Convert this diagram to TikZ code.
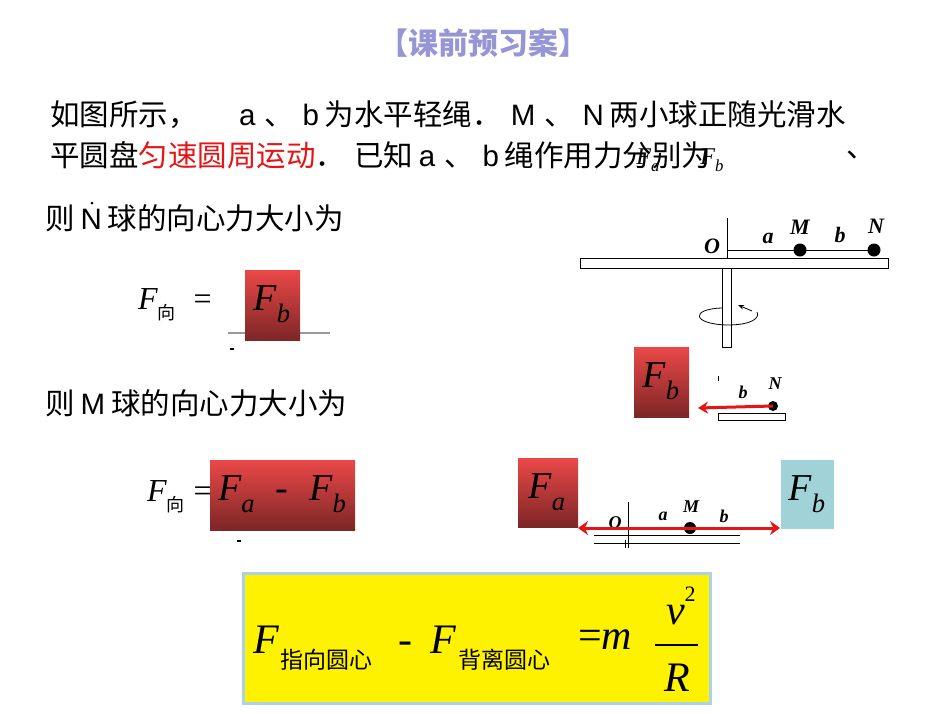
\documentclass[tikz,border=0pt]{standalone}
\usepackage{fontspec}
\setmainfont{Liberation Sans}
\newfontfamily\cjk{Noto Sans CJK SC}
\newfontfamily\ser{Liberation Serif}
\usetikzlibrary{arrows.meta}
\definecolor{tlav}{RGB}{150,150,215}
\definecolor{rtop}{RGB}{235,72,72}
\definecolor{rbot}{RGB}{125,38,38}
\definecolor{teal1}{RGB}{160,210,216}
\definecolor{rred}{RGB}{230,20,20}
\definecolor{bord}{RGB}{170,210,235}
\newcommand{\FF}[1]{{\ser\itshape F}\raisebox{-0.3em}{\scalebox{0.7}{\ser\itshape #1}}}
\newcommand{\lt}[1]{{\rmfamily #1}}
\begin{document}
\begin{tikzpicture}[x=1pt,y=-1pt,
  txt/.style={anchor=west,inner sep=0,font=\fontsize{29.5}{30}\selectfont\cjk},
  lbl/.style={inner sep=0,font=\fontsize{22}{22}\selectfont\ser\bfseries\itshape},
  slbl/.style={inner sep=0,font=\fontsize{18}{18}\selectfont\ser\bfseries\itshape},
  redbox/.style={top color=rtop,bottom color=rbot,draw=none},
  big/.style={inner sep=0,font=\fontsize{38}{38}\selectfont}]
\useasboundingbox (0,0) rectangle (950,713);
\node[inner sep=0,text=tlav,font=\fontsize{30}{30}\selectfont\cjk\bfseries] (title) at (483,43) {【课前预习案】};
\node[txt] (l1) at (50,115) {如图所示，\hspace{1.4em}\lt{a}\hspace{0.3em}、\hspace{0.3em}\lt{b}\hspace{0.2em}为水平轻绳．\hspace{0.3em}\lt{M}\hspace{0.3em}、\hspace{0.3em}\lt{N}\hspace{0.2em}两小球正随光滑水};
\node[txt] (l2) at (50,155) {平圆盘\textcolor{rred}{匀速圆周运动}．\hspace{0.3em}已知\hspace{0.2em}\lt{a}\hspace{0.3em}、\hspace{0.3em}\lt{b}\hspace{0.2em}绳作用力分别为};
\node[txt] (l2b) at (846,155) {、};
\node[inner sep=0,font=\fontsize{24}{24}\selectfont] (fa0) at (648,160) {\FF{a}};
\node[inner sep=0,font=\fontsize{24}{24}\selectfont] (fb0) at (712,160) {\FF{b}};
\node[txt] (l3) at (45,218) {则\hspace{0.2em}\lt{N}\hspace{0.2em}球的向心力大小为};
\fill (92,203) circle (1.5);
\node[txt] (l4) at (45,403) {则\hspace{0.2em}\lt{M}\hspace{0.2em}球的向心力大小为};
% first formula
\node[inner sep=0,anchor=west,font=\fontsize{32}{32}\selectfont] (f1) at (138,305) {{\ser\itshape F}\raisebox{-0.3em}{\fontsize{18}{18}\cjk 向}\ \ {\ser =}};
\draw[gray!80,line width=1.2] (228,333) -- (330,333);
\fill (230,348) rectangle (234,349.5);
\fill[redbox] (245,270) rectangle (300,340);
\node[big] (fb1) at (272,304) {\FF{b}};
% second formula
\node[inner sep=0,anchor=west,font=\fontsize{32}{32}\selectfont] (f2) at (147,497) {{\ser\itshape F}\raisebox{-0.3em}{\fontsize{18}{18}\cjk 向}\ {\ser =}};
\fill (237,540) rectangle (241,541.5);
\fill[redbox] (210,460) rectangle (355,530);
\node[big] (fab) at (282,494) {\FF{a}\ \ {\ser -}\ \ \FF{b}};
% right diagram
\draw[line width=0.8] (580,258) rectangle (888,268);
\draw[line width=0.8] (722,268) rectangle (731,347);
\draw[line width=0.8] (727,218) -- (727,258);
\draw[line width=0.8] (727,250) -- (875,250);
\fill (800,250) circle (6.5);
\fill (874,250) circle (6.5);
\node[lbl] (o1) at (712,246) {O};
\node[lbl] (a1) at (768,238) {a};
\node[lbl] (m1) at (800,227) {M};
\node[lbl] (b1) at (840,235) {b};
\node[lbl] (n1) at (876,226) {N};
\draw[line width=0.8] (722,308) .. controls (690,309) and (692,324) .. (727,325) .. controls (752,325) and (760,318) .. (757,312);
\draw[line width=0.8,-{Stealth[length=6pt]}] (752,311) -- (738,305);
% N sub diagram
\fill[redbox] (634,347) rectangle (689,417);
\node[big] (fb2) at (661,381) {\FF{b}};
\draw[line width=0.8] (718,376) -- (718,381);
\node[slbl] (b2) at (743,392) {b};
\node[slbl] (n2) at (775,384) {N};
\draw[line width=0.8] (718,413) rectangle (785,420);
\fill (773,406) circle (5);
\coordinate (nb) at (773,406);
\coordinate (ne) at (698,408);
\draw[rred,line width=3,-{Stealth[length=10pt,width=12pt]}] (nb) -- (ne);
% M sub diagram
\fill[redbox] (518,458) rectangle (578,527);
\node[big] (fa3) at (547,492) {\FF{a}};
\fill[teal1] (781,460) rectangle (834,529);
\node[big] (fb3) at (807,494) {\FF{b}};
\draw[line width=0.8] (594,535) -- (740,535);
\draw[line width=0.8] (594,543) -- (740,543);
\draw[line width=0.8] (628,502) -- (628,548);
\draw[line width=0.8] (625,540) -- (625,548);
\node[slbl] (o3) at (615,523) {O};
\node[slbl] (a3) at (663,516) {a};
\node[slbl] (m3) at (691,507) {M};
\node[slbl] (b3) at (724,516) {b};
\fill (690,528) circle (6);
\coordinate (al) at (578,528);
\coordinate (ar) at (780,528);
\draw[rred,line width=3,{Stealth[length=10pt,width=14pt]}-{Stealth[length=10pt,width=14pt]}] (al) -- (ar);
% bottom formula box
\draw[bord,line width=3,fill=yellow] (243,573) rectangle (710,703);
\node[inner sep=0,anchor=west,font=\fontsize{42}{42}\selectfont\ser\itshape] (fm1) at (253,640) {F};
\node[inner sep=0,anchor=west,font=\fontsize{23}{23}\selectfont\cjk] (s1) at (280,660) {指向圆心};
\node[inner sep=0,font=\fontsize{42}{42}\selectfont\ser] (mi) at (405,648) {-};
\node[inner sep=0,anchor=west,font=\fontsize{42}{42}\selectfont\ser\itshape] (fm2) at (430,640) {F};
\node[inner sep=0,anchor=west,font=\fontsize{23}{23}\selectfont\cjk] (s2) at (458,660) {背离圆心};
\node[inner sep=0,anchor=west,font=\fontsize{42}{42}\selectfont\ser] (eq) at (578,640) {=\textit{m}};
\node[inner sep=0,font=\fontsize{42}{42}\selectfont\ser\itshape] (v) at (676,615) {v};
\node[inner sep=0,font=\fontsize{22}{22}\selectfont\ser] (sq) at (690,594) {2};
\draw[line width=1.2] (655,645) -- (698,645);
\node[inner sep=0,font=\fontsize{42}{42}\selectfont\ser\itshape] (R) at (677,678) {R};
\end{tikzpicture}
\end{document}
